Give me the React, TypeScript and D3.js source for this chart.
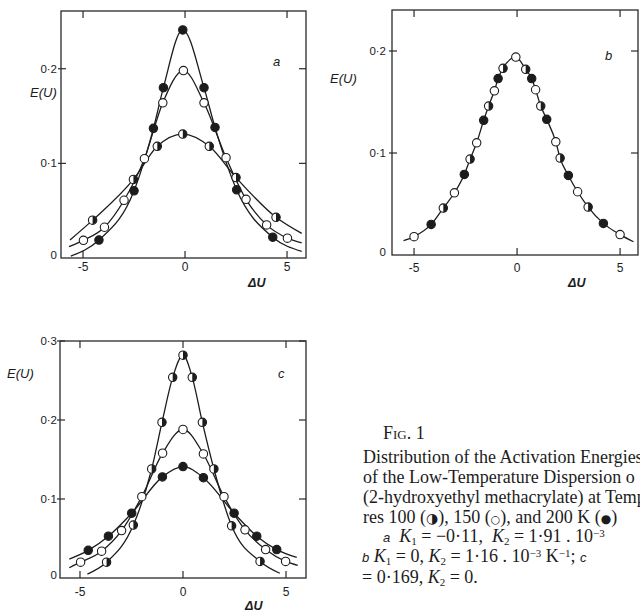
import React from 'react';
import * as d3 from 'd3';

type Pt = [number, number];
type Kind = 'half' | 'open' | 'filled';

const xTicks = [-5, 0, 5];
const xTickLabels = ['-5', '0', '5'];
const yTicksAB = [0, 0.1, 0.2];
const yTickLabelsAB = ['0', '0·1', '0·2'];
const yTicksC = [0, 0.1, 0.2, 0.3];
const yTickLabelsC = ['0', '0·1', '0·2', '0·3'];

// panel a  (100 K half, 150 K open, 200 K filled)
const aHalf: Pt[] = [[-4.53, 0.040], [-2.53, 0.083], [-1.36, 0.118], [-0.11, 0.131], [1.19, 0.118], [2.50, 0.085], [4.46, 0.043]];
const aHalfEnds: Pt[] = [[-5.64, 0.019], [5.72, 0.026]];
const aOpen: Pt[] = [[-4.98, 0.0187], [-3.95, 0.0325], [-2.99, 0.061], [-1.99, 0.105], [-1.09, 0.164], [-0.08, 0.198], [0.93, 0.164], [2.01, 0.106], [2.99, 0.062], [4.00, 0.035], [5.02, 0.021]];
const aOpenEnds: Pt[] = [[-5.69, 0.012], [5.72, 0.016]];
const aFilled: Pt[] = [[-4.22, 0.019], [-2.50, 0.071], [-1.55, 0.137], [-1.06, 0.180], [-0.11, 0.241], [0.93, 0.180], [1.47, 0.138], [2.53, 0.072], [4.30, 0.022]];
const aFilledEnds: Pt[] = [[-5.6, 0.002], [5.72, 0.007]];

// panel b  (one curve for all three temperatures)
const bOpen: Pt[] = [[-5.0, 0.018], [-3.04, 0.061], [-1.96, 0.110], [-1.10, 0.161], [-0.06, 0.194], [0.90, 0.162], [1.88, 0.111], [2.94, 0.062], [5.0, 0.020]];
const bFilled: Pt[] = [[-4.17, 0.030], [-2.56, 0.079], [-1.62, 0.132], [-0.92, 0.173], [0.71, 0.173], [1.44, 0.133], [2.49, 0.078], [4.19, 0.031]];
const bHalf: Pt[] = [[-3.58, 0.046], [-2.28, 0.094], [-1.38, 0.146], [-0.68, 0.183], [0.42, 0.182], [1.15, 0.146], [2.09, 0.095], [3.45, 0.047]];
const bEnds: Pt[] = [[-5.51, 0.014], [5.65, 0.013]];

// panel c
const cHalf: Pt[] = [[-3.71, 0.020], [-2.41, 0.067], [-1.52, 0.138], [-1.02, 0.197], [-0.5, 0.254], [0, 0.282], [0.45, 0.254], [0.94, 0.197], [1.50, 0.138], [2.36, 0.066], [3.74, 0.021]];
const cHalfEnds: Pt[] = [[-4.64, 0.005], [4.70, 0.006]];
const cOpen: Pt[] = [[-4.97, 0.020], [-3.95, 0.034], [-2.98, 0.060], [-2.0, 0.103], [-0.99, 0.158], [0, 0.188], [0.99, 0.157], [1.99, 0.103], [3.01, 0.061], [4.01, 0.036], [4.98, 0.021]];
const cOpenEnds: Pt[] = [[-5.52, 0.013], [5.57, 0.016]];
const cFilled: Pt[] = [[-4.6, 0.035], [-3.62, 0.053], [-2.49, 0.082], [-1.0, 0.128], [0, 0.141], [0.99, 0.127], [2.48, 0.082], [3.58, 0.053], [4.55, 0.036]];
const cFilledEnds: Pt[] = [[-5.52, 0.024], [5.52, 0.026]];

const ink = '#1c1c1c';
const sans = '"Liberation Sans", Arial, sans-serif';
const serif = '"Liberation Serif", "Times New Roman", serif';
const sym = '"DejaVu Sans", sans-serif';

const byX = (...lists: Pt[][]) => ([] as Pt[]).concat(...lists).sort((p, q) => p[0] - q[0]);

const Marker = ({ cx, cy, kind }: { cx: number; cy: number; kind: Kind }) => {
  const r = 4.2;
  if (kind === 'open') return <circle cx={cx} cy={cy} r={r} fill="#fff" stroke={ink} strokeWidth={1.1} />;
  if (kind === 'filled') return <circle cx={cx} cy={cy} r={r} fill={ink} stroke={ink} strokeWidth={1.1} />;
  return (
    <g>
      <circle cx={cx} cy={cy} r={r} fill="#fff" stroke={ink} strokeWidth={1.1} />
      <path d={`M${cx},${cy - r}A${r},${r} 0 0 1 ${cx},${cy + r}Z`} fill={ink} />
    </g>
  );
};

const Panel = ({ cfg }: { cfg: any }) => {
  const x = d3.scaleLinear().domain(cfg.xDomain).range([cfg.left, cfg.right]);
  const y = d3.scaleLinear().domain(cfg.yDomain).range([cfg.bottom, cfg.top]);
  const line = d3.line<Pt>().x(d => x(d[0])).y(d => y(d[1])).curve(d3.curveMonotoneX);
  const tk = 7;
  return (
    <g>
      <rect x={cfg.left} y={cfg.top} width={cfg.right - cfg.left} height={cfg.bottom - cfg.top}
        fill="none" stroke="#2a2a2a" strokeWidth={1.3} />
      {xTicks.map((t, i) => (
        <g key={'x' + i}>
          <line x1={x(t)} x2={x(t)} y1={cfg.bottom} y2={cfg.bottom - tk} stroke="#2a2a2a" strokeWidth={1.2} />
          <line x1={x(t)} x2={x(t)} y1={cfg.top} y2={cfg.top + tk} stroke="#2a2a2a" strokeWidth={1.2} />
          <text x={x(t)} y={cfg.xLabelY} textAnchor="middle" fontFamily={sans} fontSize={12} fill={ink}>{xTickLabels[i]}</text>
        </g>
      ))}
      {cfg.yTicks.map((t: number, i: number) => (
        <g key={'y' + i}>
          {t > 0 && <line x1={cfg.left - 3} x2={cfg.left + 5} y1={y(t)} y2={y(t)} stroke="#2a2a2a" strokeWidth={1.2} />}
          {t > 0 && <line x1={cfg.right} x2={cfg.right - tk} y1={y(t)} y2={y(t)} stroke="#2a2a2a" strokeWidth={1.2} />}
          <text x={cfg.left - cfg.yLabelGap} y={y(t) + (t === 0 ? 1 : 4)} textAnchor="end" fontFamily={sans} fontSize={11.5} fill={ink}>{cfg.yLabels[i]}</text>
        </g>
      ))}
      {cfg.curves.map((c: Pt[], i: number) => (
        <path key={'c' + i} d={line(c) || ''} fill="none" stroke={ink} strokeWidth={1.3} />
      ))}
      {cfg.marks.map((m: { kind: Kind; pts: Pt[] }, i: number) =>
        m.pts.map((p, j) => <Marker key={`m${i}-${j}`} cx={x(p[0])} cy={y(p[1])} kind={m.kind} />)
      )}
      <text x={cfg.eLabel[0]} y={cfg.eLabel[1]} fontFamily={sans} fontStyle="italic" fontSize={13} fill={ink}>E(U)</text>
      <text x={cfg.dLabel[0]} y={cfg.dLabel[1]} fontFamily={sans} fontStyle="italic" fontWeight="bold" fontSize={12.5} fill={ink}>ΔU</text>
      <text x={cfg.letter[0]} y={cfg.letter[1]} fontFamily={sans} fontStyle="italic" fontSize={13} fill={ink}>{cfg.letterText}</text>
    </g>
  );
};

const panelA = {
  xDomain: [-6.08, 5.93], yDomain: [0, 0.261], left: 61, right: 306, top: 11, bottom: 258,
  yTicks: yTicksAB, yLabels: yTickLabelsAB, xLabelY: 271, yLabelGap: 4,
  curves: [byX(aHalfEnds, aHalf), byX(aOpenEnds, aOpen), byX(aFilledEnds, aFilled)],
  marks: [{ kind: 'half', pts: aHalf }, { kind: 'open', pts: aOpen }, { kind: 'filled', pts: aFilled }],
  eLabel: [30, 97], dLabel: [248, 287], letter: [273, 66], letterText: 'a',
};

const panelB = {
  xDomain: [-6.07, 5.87], yDomain: [0, 0.2402], left: 392, right: 638, top: 10, bottom: 255,
  yTicks: yTicksAB, yLabels: yTickLabelsAB, xLabelY: 272, yLabelGap: 6,
  curves: [byX(bEnds, bOpen, bFilled, bHalf)],
  marks: [{ kind: 'open', pts: bOpen }, { kind: 'filled', pts: bFilled }, { kind: 'half', pts: bHalf }],
  eLabel: [330, 83], dLabel: [568, 287], letter: [605, 60], letterText: 'b',
};

const panelC = {
  xDomain: [-5.97, 5.97], yDomain: [0, 0.3], left: 60, right: 306, top: 341, bottom: 578,
  yTicks: yTicksC, yLabels: yTickLabelsC, xLabelY: 596, yLabelGap: 3,
  curves: [byX(cHalfEnds, cHalf), byX(cOpenEnds, cOpen), byX(cFilledEnds, cFilled)],
  marks: [{ kind: 'filled', pts: cFilled }, { kind: 'open', pts: cOpen }, { kind: 'half', pts: cHalf }],
  eLabel: [7, 378], dLabel: [245, 610], letter: [278, 378], letterText: 'c',
};

const Sub = ({ t }: { t: string }) => <tspan dy={2.5} fontSize={11}>{t}</tspan>;
const Sup = ({ t }: { t: string }) => <tspan dy={-5.5} fontSize={11}>{t}</tspan>;

export default function App() {
  const cap = { fontFamily: serif, fontSize: 18, fill: ink, style: { whiteSpace: 'pre' as const } };
  return (
    <svg width={640} height={612} style={{ position: 'absolute', left: 0, top: 0, display: 'block', background: '#fff' }}>
      <Panel cfg={panelA} />
      <Panel cfg={panelB} />
      <Panel cfg={panelC} />

      <text x={383} y={439} {...cap}>F<tspan fontSize={13}>IG</tspan>. 1</text>
      <text x={363} y={463} {...cap}>Distribution of the Activation Energies</text>
      <text x={363} y={483} {...cap}>of the Low-Temperature Dispersion o</text>
      <text x={363} y={503} {...cap}>(2-hydroxyethyl methacrylate) at Temp</text>
      <text x={363} y={523} {...cap}>
        res 100 (<tspan fontFamily={sym} fontSize={14}>◑</tspan>), 150 (<tspan fontFamily={sym} fontSize={11}>○</tspan>), and 200 K (<tspan fontFamily={sym} fontSize={12}>●</tspan>)
      </text>
      <text x={383} y={542} {...cap}>
        <tspan fontFamily={sans} fontStyle="italic" fontSize={13}>a</tspan>
        <tspan>  </tspan><tspan fontStyle="italic">K</tspan><Sub t="1" /><tspan dy={-2.5}> = −0·11,  </tspan>
        <tspan fontStyle="italic">K</tspan><Sub t="2" /><tspan dy={-2.5}> = 1·91 . 10</tspan><Sup t="−3" />
      </text>
      <text x={362} y={562} {...cap}>
        <tspan fontFamily={sans} fontStyle="italic" fontSize={13}>b</tspan>
        <tspan> </tspan><tspan fontStyle="italic">K</tspan><Sub t="1" /><tspan dy={-2.5}> = 0, </tspan>
        <tspan fontStyle="italic">K</tspan><Sub t="2" /><tspan dy={-2.5}> = 1·16 . 10</tspan><Sup t="−3" />
        <tspan dy={5.5}> K</tspan><Sup t="−1" /><tspan dy={5.5}>; </tspan>
        <tspan fontFamily={sans} fontStyle="italic" fontSize={13}>c</tspan>
      </text>
      <text x={362} y={583} {...cap}>
        <tspan>= 0·169, </tspan><tspan fontStyle="italic">K</tspan><Sub t="2" /><tspan dy={-2.5}> = 0.</tspan>
      </text>
    </svg>
  );
}
